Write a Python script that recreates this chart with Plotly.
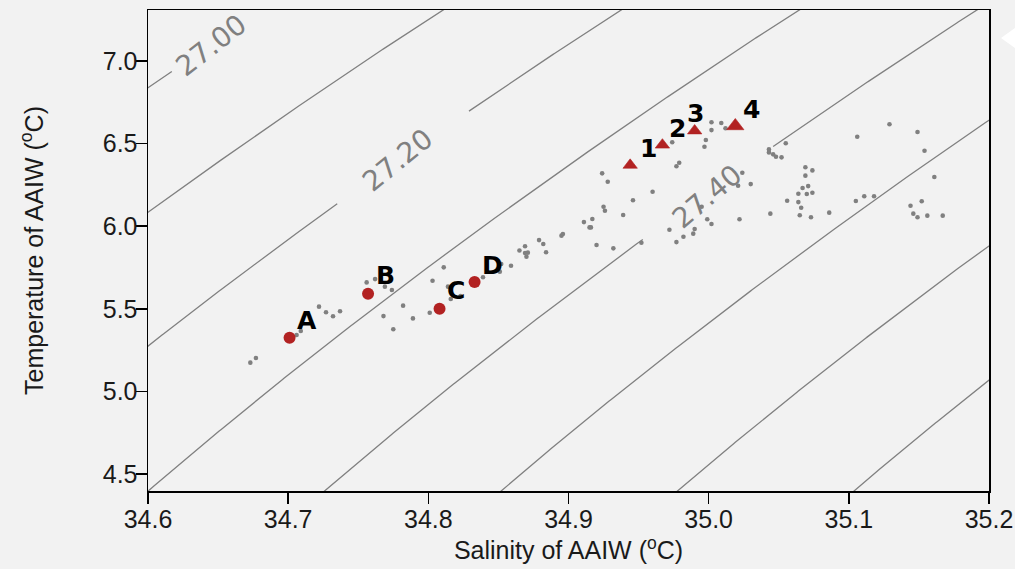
import numpy as np
import plotly.graph_objects as go

# ---------------- data ----------------
gray_sal = [34.673, 34.677, 34.706, 34.709, 34.722, 34.727, 34.732, 34.737, 34.756, 34.762,
            34.769, 34.774, 34.768, 34.775, 34.782, 34.789, 34.801, 34.803, 34.811, 34.814,
            34.816, 34.823, 34.839, 34.851, 34.852, 34.859, 34.865, 34.869, 34.869, 34.871,
            34.870, 34.879, 34.882, 34.884, 34.895, 34.896, 34.911, 34.915, 34.916, 34.917,
            34.920, 34.924, 34.928, 34.925, 34.926, 34.932, 34.939, 34.946, 34.952, 34.960,
            34.972, 34.977, 34.982, 34.989, 34.990, 34.995, 34.999, 35.002, 35.022, 34.977,
            34.979, 34.974, 34.997, 34.998, 35.002, 35.002, 35.009, 35.012, 35.024, 35.030,
            35.021, 35.043, 35.043, 35.046, 35.048, 35.052, 35.055, 35.044, 35.056, 35.064,
            35.067, 35.071, 35.070, 35.074, 35.069, 35.074, 35.069, 35.064, 35.066, 35.065,
            35.073, 35.086, 35.105, 35.111, 35.118, 35.106, 35.129, 35.149, 35.154, 35.161,
            35.144, 35.152, 35.146, 35.149, 35.156, 35.167]
gray_temp = [5.174, 5.202, 5.341, 5.366, 5.513, 5.479, 5.455, 5.485, 5.660, 5.680,
             5.634, 5.614, 5.456, 5.376, 5.519, 5.442, 5.476, 5.670, 5.751, 5.634,
             5.559, 5.577, 5.691, 5.725, 5.771, 5.761, 5.853, 5.879, 5.838, 5.840,
             5.815, 5.916, 5.892, 5.842, 5.943, 5.953, 6.025, 5.993, 5.993, 6.044,
             5.886, 6.320, 6.269, 6.118, 6.094, 5.866, 6.068, 6.157, 5.900, 6.209,
             5.979, 5.904, 5.936, 5.955, 5.983, 6.118, 6.042, 6.013, 6.042, 6.363,
             6.384, 6.508, 6.481, 6.522, 6.629, 6.582, 6.625, 6.593, 6.324, 6.255,
             6.245, 6.465, 6.447, 6.435, 6.421, 6.417, 6.502, 6.076, 6.154, 6.197,
             6.231, 6.243, 6.195, 6.203, 6.357, 6.338, 6.306, 6.146, 6.112, 6.066,
             6.054, 6.082, 6.153, 6.181, 6.181, 6.542, 6.617, 6.570, 6.457, 6.298,
             6.124, 6.151, 6.076, 6.054, 6.064, 6.064]

circle_labels = ["A", "B", "C", "D"]
circle_sal = [34.701, 34.757, 34.808, 34.833]
circle_temp = [5.325, 5.591, 5.501, 5.662]

triangle_labels = ["1", "2", "3", "4"]
triangle_sal = [34.944, 34.967, 34.990, 35.019]
triangle_temp = [6.370, 6.492, 6.578, 6.607]

density_levels = [27.0, 27.1, 27.2, 27.3, 27.4, 27.5, 27.6, 27.7]
x_ticks = [34.6, 34.7, 34.8, 34.9, 35.0, 35.1, 35.2]
y_ticks = [4.5, 5.0, 5.5, 6.0, 6.5, 7.0]

# ---------------- density field (EOS-80, surface) ----------------
SIGMA_OFFSET = 0.126  # calibration so the isopycnals sit where the picture shows them


def sigma_eos80(S, T):
    rho_w = (999.842594 + 6.793952e-2 * T - 9.095290e-3 * T**2 + 1.001685e-4 * T**3
             - 1.120083e-6 * T**4 + 6.536332e-9 * T**5)
    A = 0.824493 - 4.0899e-3 * T + 7.6438e-5 * T**2 - 8.2467e-7 * T**3 + 5.3875e-9 * T**4
    B = -5.72466e-3 + 1.0227e-4 * T - 1.6546e-6 * T**2
    C = 4.8314e-4
    return rho_w + A * S + B * S**1.5 + C * S**2 - 1000.0 - SIGMA_OFFSET


def isopycnal_temp(level, S):
    T = np.full_like(S, 6.0)
    for _ in range(30):
        f = sigma_eos80(S, T) - level
        d = (sigma_eos80(S, T + 1e-4) - sigma_eos80(S, T - 1e-4)) / 2e-4
        T = T - f / d
    return T


# ---------------- style ----------------
BG = "#f2f2f2"
GRAY = "#808080"
RED = "#b22222"
TICK_FONT = dict(family="Liberation Sans, Arial, sans-serif", size=25, color="#1a1a1a")

# gaps (salinity range) cut into labelled isopycnals, and label placement
label_gaps = {27.0: (34.617, 35.5), 27.2: (34.735, 34.829), 27.4: (34.953, 35.046)}
label_place = {27.0: (34.645, 7.095, -38), 27.2: (34.778, 6.395, -39), 27.4: (34.999, 6.180, -40)}

circle_offsets = [(17, -17), (17, -18), (16, -18), (18, -17)]
triangle_offsets = [(18, -17), (15, -16), (1, -17), (16, -16)]
triangle_sizes = [12.5, 12.5, 12.5, 15]

fig = go.Figure()

S_grid = np.linspace(34.5, 35.3, 801)
for lev in density_levels:
    T_line = isopycnal_temp(lev, S_grid)
    if lev in label_gaps:
        lo, hi = label_gaps[lev]
        T_line = np.where((S_grid > lo) & (S_grid < hi), np.nan, T_line)
    fig.add_trace(go.Scatter(x=S_grid, y=T_line, mode="lines",
                             line=dict(color=GRAY, width=1.3),
                             hoverinfo="skip", showlegend=False))

fig.add_trace(go.Scatter(x=gray_sal, y=gray_temp, mode="markers",
                         marker=dict(color=GRAY, size=4.6, opacity=1, line=dict(width=0)),
                         showlegend=False))
fig.add_trace(go.Scatter(x=circle_sal, y=circle_temp, mode="markers",
                         marker=dict(color=RED, size=12, opacity=1, line=dict(width=0)),
                         showlegend=False))
fig.add_trace(go.Scatter(x=triangle_sal, y=triangle_temp, mode="markers",
                         marker=dict(color=RED, size=triangle_sizes, symbol="triangle-up",
                                     opacity=1, line=dict(width=0.6, color=RED)),
                         showlegend=False))

annotations = []
for lev, (sx, ty, ang) in label_place.items():
    annotations.append(dict(x=sx, y=ty, xref="x", yref="y", text=f"{lev:.2f}",
                            showarrow=False, textangle=ang,
                            font=dict(family="DejaVu Sans", size=28, color=GRAY)))
for lab, sx, ty, (dx, dy) in zip(circle_labels, circle_sal, circle_temp, circle_offsets):
    annotations.append(dict(x=sx, y=ty, xref="x", yref="y", text=f"<b>{lab}</b>",
                            showarrow=False, xshift=dx, yshift=-dy,
                            font=dict(family="DejaVu Sans", size=25, color="black")))
for lab, sx, ty, (dx, dy) in zip(triangle_labels, triangle_sal, triangle_temp, triangle_offsets):
    annotations.append(dict(x=sx, y=ty, xref="x", yref="y", text=f"<b>{lab}</b>",
                            showarrow=False, xshift=dx, yshift=-dy,
                            font=dict(family="DejaVu Sans", size=25, color="black")))

fig.update_layout(
    width=1015, height=569,
    margin=dict(l=148, r=26, t=10, b=78),
    paper_bgcolor=BG, plot_bgcolor=BG,
    showlegend=False,
    hovermode=False,
    annotations=annotations,
    shapes=[dict(type="path", xref="paper", yref="paper",
                 path="M 1.031 0.9626 L 1.0143 0.9418 L 1.031 0.921 Z",
                 fillcolor="white", line=dict(width=0))],
)
fig.update_xaxes(range=[34.6, 35.2], tickvals=x_ticks, tickformat=".1f",
                 showgrid=False, zeroline=False, automargin=False,
                 showline=True, linecolor="black", linewidth=1.5, mirror=True,
                 ticks="outside", ticklen=11, tickwidth=1.5, tickcolor="black",
                 tickfont=TICK_FONT, ticklabelstandoff=-6,
                 title=dict(text="Salinity of AAIW (<sup>o</sup>C)", font=TICK_FONT, standoff=4))
fig.update_yaxes(range=[4.397, 7.309], tickvals=y_ticks, tickformat=".1f",
                 showgrid=False, zeroline=False, automargin=False,
                 showline=True, linecolor="black", linewidth=1.5, mirror=True,
                 ticks="outside", ticklen=11, tickwidth=1.5, tickcolor="black",
                 tickfont=TICK_FONT, ticklabelstandoff=-7,
                 title=dict(text="Temperature of AAIW (<sup>o</sup>C)", font=TICK_FONT, standoff=52))

fig.write_html(
    "out.html",
    config={"displayModeBar": False, "staticPlot": True},
    post_script="document.body.style.margin='0';document.body.style.background='#f2f2f2';",
)
